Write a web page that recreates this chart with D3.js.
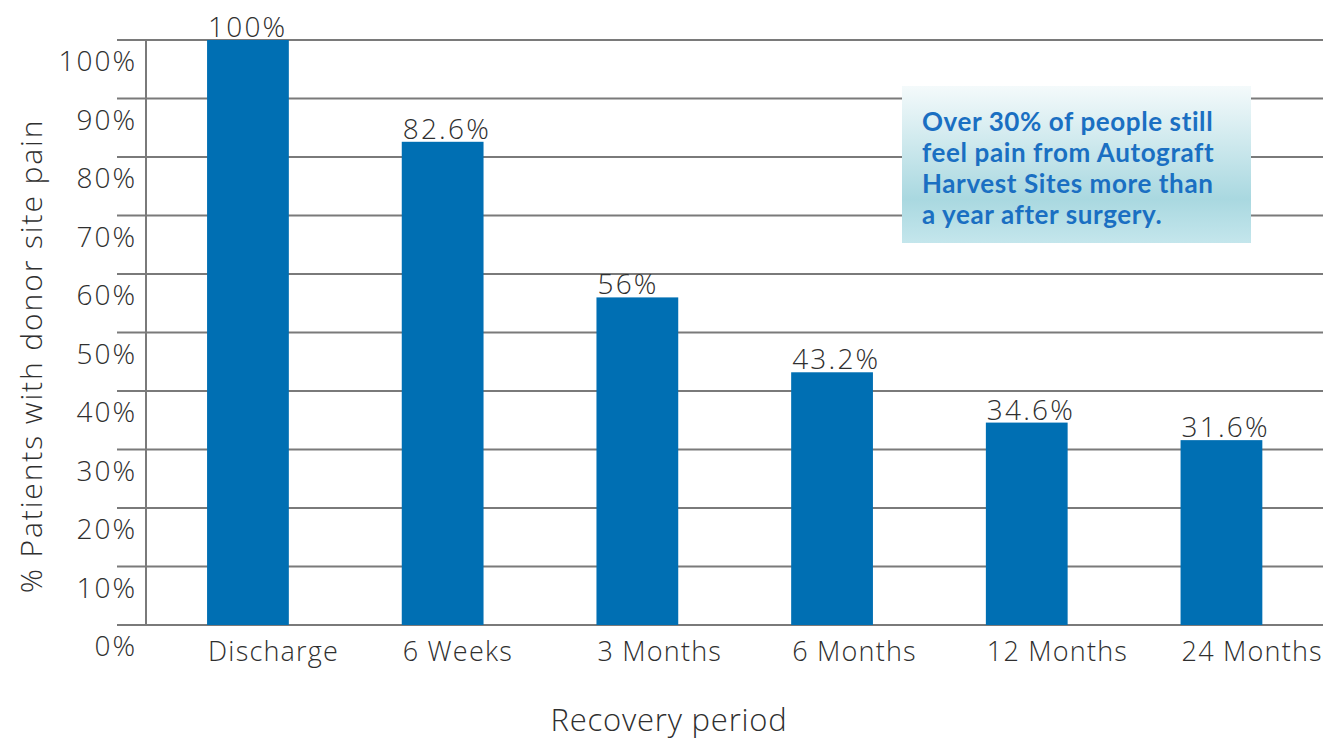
<!DOCTYPE html>
<html><head><meta charset="utf-8">
<script src="https://cdn.jsdelivr.net/npm/d3@7"></script>
<style>body{margin:0;background:#fff}svg{display:block}</style>
</head><body>
<svg id="c" width="1330" height="739"></svg>
<script>
const categories = ["Discharge","6 Weeks","3 Months","6 Months","12 Months","24 Months"];
const values = [100, 82.6, 56, 43.2, 34.6, 31.6];
const valueLabels = ["100%","82.6%","56%","43.2%","34.6%","31.6%"];
const yTicks = [0,10,20,30,40,50,60,70,80,90,100];
const yTickLabels = ["0%","10%","20%","30%","40%","50%","60%","70%","80%","90%","100%"];
const noteLines = ["Over 30% of people still","feel pain from Autograft","Harvest Sites more than","a year after surgery."];

const svg = d3.select("#c");
const font = "'Open Sans', 'Noto Sans', sans-serif";
const txt = "#2f2f2f";
const y = d3.scaleLinear().domain([0,100]).range([625,40]);
const x = d3.scaleBand().domain(categories).range([150.6,1318.8]).paddingInner(0.58).paddingOuter(0.29);

// gridlines
svg.append("g").selectAll("line").data(yTicks).join("line")
  .attr("x1",117).attr("x2",1323).attr("y1",d=>y(d)).attr("y2",d=>y(d))
  .attr("stroke","#7a7a7a").attr("stroke-width",2);
// vertical axis
svg.append("line").attr("x1",146).attr("x2",146).attr("y1",y(100)).attr("y2",y(0))
  .attr("stroke","#7a7a7a").attr("stroke-width",2);

// y tick labels (placed below each gridline)
svg.append("g").selectAll("text").data(yTicks).join("text")
  .attr("x",137).attr("y",(d,i)=>y(d)+31).attr("text-anchor","end")
  .attr("font-family",font).attr("font-weight",300).attr("font-size",28).attr("fill",txt).attr("letter-spacing",2)
  .text((d,i)=>yTickLabels[i]);

// bars
svg.append("g").selectAll("rect").data(values).join("rect")
  .attr("x",(d,i)=>x(categories[i])).attr("width",x.bandwidth())
  .attr("y",d=>y(d)).attr("height",d=>y(0)-y(d)).attr("fill","#006fb3");

// value labels
svg.append("g").selectAll("text").data(values).join("text")
  .attr("x",(d,i)=>x(categories[i])+1).attr("y",d=>y(d)-3)
  .attr("font-family",font).attr("font-weight",300).attr("font-size",28).attr("fill",txt).attr("letter-spacing",2.2)
  .text((d,i)=>valueLabels[i]);

// category labels
svg.append("g").selectAll("text").data(categories).join("text")
  .attr("x",d=>x(d)+1).attr("y",661)
  .attr("font-family",font).attr("font-weight",300).attr("font-size",27).attr("fill",txt).attr("letter-spacing",1.2)
  .text(d=>d);

// axis titles
svg.append("text").attr("x",669).attr("y",731).attr("text-anchor","middle")
  .attr("font-family",font).attr("font-weight",300).attr("font-size",31).attr("fill",txt).attr("letter-spacing",0.8).text("Recovery period");
svg.append("text").attr("transform","translate(42,356) rotate(-90)").attr("text-anchor","middle")
  .attr("font-family",font).attr("font-weight",300).attr("font-size",30).attr("fill",txt).attr("letter-spacing",1.9).text("% Patients with donor site pain");

// annotation
const defs = svg.append("defs");
const g = defs.append("linearGradient").attr("id","ng").attr("x1",0).attr("x2",0).attr("y1",0).attr("y2",1);
g.append("stop").attr("offset","0%").attr("stop-color","#f4fafb");
g.append("stop").attr("offset","72%").attr("stop-color","#a9d8e0");
g.append("stop").attr("offset","100%").attr("stop-color","#c4e6ec");
svg.append("rect").attr("x",902).attr("y",86).attr("width",349).attr("height",157).attr("fill","url(#ng)");
svg.append("g").selectAll("text").data(noteLines).join("text")
  .attr("x",922).attr("y",(d,i)=>131+i*31)
  .attr("font-family","Lato, 'Open Sans', sans-serif").attr("font-weight","bold")
  .attr("font-size",26).attr("letter-spacing",0.6).attr("fill","#1a6fc2").text(d=>d);
</script>
</body></html>
